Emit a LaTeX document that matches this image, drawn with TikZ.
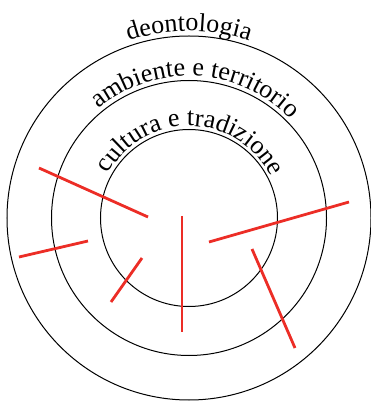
\documentclass[tikz,border=0pt]{standalone}
\usepackage{fontspec}
\setmainfont{Liberation Serif}
\usepackage{tikz}
\usetikzlibrary{decorations.text}
\definecolor{cutred}{RGB}{236,45,38}
\newcommand{\ringfont}{\fontsize{26}{31}\selectfont}

\begin{document}
\begin{tikzpicture}[x=1pt, y=1pt,
    ring/.style={draw=black, line width=1pt, circle, inner sep=0pt},
    cut/.style={draw=cutred, line width=2.8pt},
    ringlabel/.style={decorate, decoration={text along path, text align=center, text={|\ringfont|#1}}}]
  \useasboundingbox (-189,-183) rectangle (182,218);
  % Rings
  \node[ring, minimum size=364pt] (outer) at (0,0) {};
  \node[ring, minimum size=275pt] (middle) at (0,0) {};
  \node[ring, minimum size=177pt] (inner) at (0,0) {};
  % Labels along the rings
  \path[ringlabel={deontologia}] (180:187pt) arc[start angle=180, end angle=0, radius=187pt];
  \path[ringlabel={ambiente e territorio}] (177:142pt) arc[start angle=177, end angle=-3, radius=142pt];
  \path[ringlabel={cultura e tradizione}] (179:92pt) arc[start angle=179, end angle=-1, radius=92pt];
  % Red cuts
  \coordinate (c1a) at (-150,50);  \coordinate (c1b) at (-41,1);
  \coordinate (c2a) at (-170,-39); \coordinate (c2b) at (-101,-23);
  \coordinate (c3a) at (-78,-84);  \coordinate (c3b) at (-47,-40);
  \coordinate (c4a) at (-7,2);     \coordinate (c4b) at (-7,-114);
  \coordinate (c5a) at (20,-24);   \coordinate (c5b) at (160,16);
  \coordinate (c6a) at (63,-31);   \coordinate (c6b) at (106,-130);
  \foreach \i in {1,...,6}
    \draw[cut] (c\i a) -- (c\i b);
\end{tikzpicture}
\end{document}
